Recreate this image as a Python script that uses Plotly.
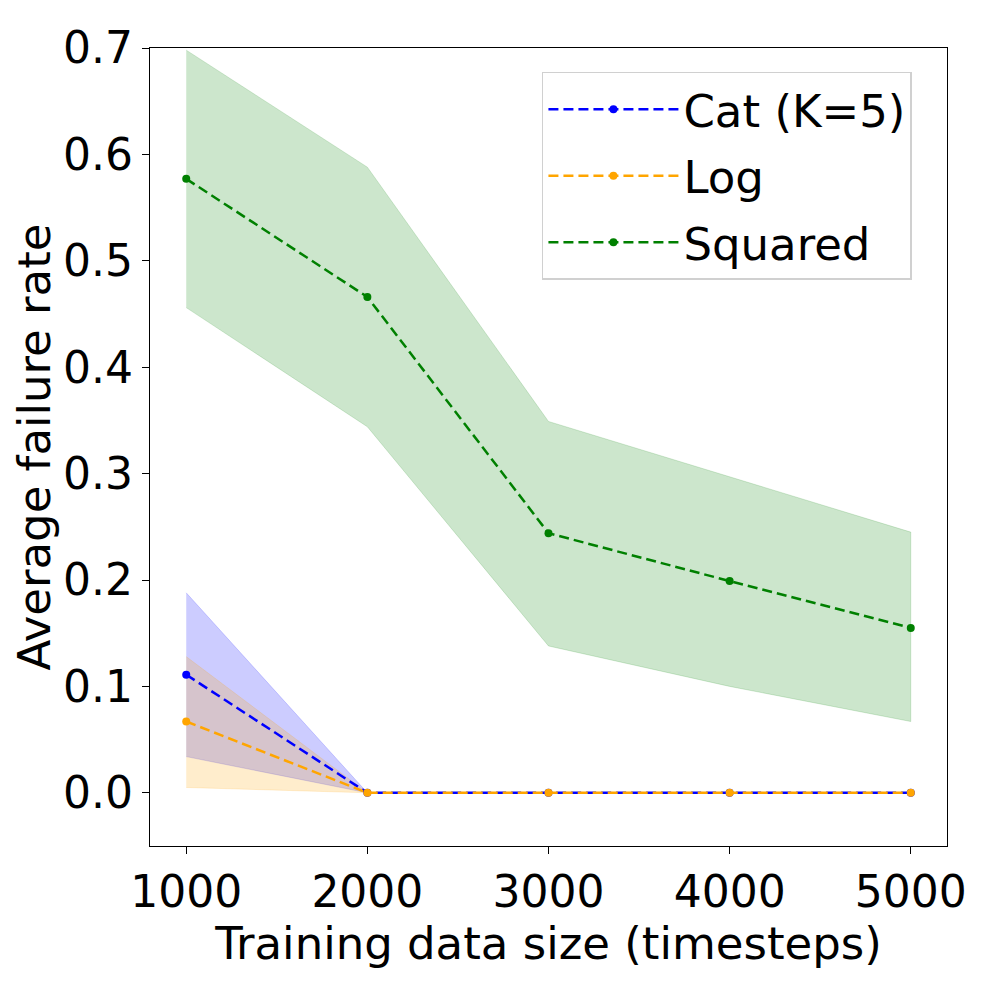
import plotly.graph_objects as go

# Training data sizes (timesteps)
sizes = [1000, 2000, 3000, 4000, 5000]

# Mean failure rates and band limits
cat_mean = [0.111, 0.0, 0.0, 0.0, 0.0]
cat_low = [0.034, 0.0, 0.0, 0.0, 0.0]
cat_high = [0.188, 0.0, 0.0, 0.0, 0.0]

log_mean = [0.067, 0.0, 0.0, 0.0, 0.0]
log_low = [0.005, 0.0, 0.0, 0.0, 0.0]
log_high = [0.128, 0.0, 0.0, 0.0, 0.0]

sq_mean = [0.577, 0.466, 0.244, 0.199, 0.155]
sq_low = [0.456, 0.344, 0.138, 0.100, 0.067]
sq_high = [0.698, 0.588, 0.349, 0.297, 0.245]

series = [
    ("Cat (K=5)", cat_mean, cat_low, cat_high, "blue", "rgba(0,0,255,0.2)"),
    ("Log", log_mean, log_low, log_high, "orange", "rgba(255,165,0,0.2)"),
    ("Squared", sq_mean, sq_low, sq_high, "green", "rgba(0,128,0,0.2)"),
]

font = "DejaVu Sans, sans-serif"
fig = go.Figure()

# Shaded bands first, then dashed lines on top
for name, mean, low, high, color, fill in series:
    fig.add_scatter(
        x=sizes + sizes[::-1],
        y=high + low[::-1],
        fill="toself",
        fillcolor=fill,
        line=dict(width=0.8, color=fill),
        mode="lines",
        showlegend=False,
        hoverinfo="skip",
    )

for name, mean, low, high, color, fill in series:
    fig.add_scatter(
        x=sizes,
        y=mean,
        mode="lines+markers",
        name=name,
        legendgroup=name,
        line=dict(color=color, width=2.5, dash="10px,5px"),
        marker=dict(color=color, size=8),
    )

axis_common = dict(
    showline=True,
    linecolor="black",
    linewidth=1.2,
    mirror=True,
    ticks="outside",
    ticklen=7,
    tickwidth=1.2,
    tickcolor="black",
    showgrid=False,
    zeroline=False,
    tickfont=dict(family=font, size=44, color="black"),
)

fig.update_layout(
    width=997,
    height=997,
    paper_bgcolor="white",
    plot_bgcolor="white",
    margin=dict(l=142, r=58, t=40, b=159),
    font=dict(family=font, color="black"),
    xaxis=dict(
        axis_common,
        range=[800, 5200],
        tickvals=sizes,
        title=dict(text="Training data size (timesteps)", font=dict(family=font, size=45), standoff=4),
    ),
    yaxis=dict(
        axis_common,
        range=[-0.05, 0.7],
        tickvals=[0.0, 0.1, 0.2, 0.3, 0.4, 0.5, 0.6, 0.7],
        tickformat=".1f",
        title=dict(text="Average failure rate", font=dict(family=font, size=45), standoff=12),
    ),
    legend=dict(
        x=0.956,
        y=0.97,
        xanchor="right",
        yanchor="top",
        bgcolor="rgba(255,255,255,0.8)",
        bordercolor="#d0d0d0",
        borderwidth=1.5,
        font=dict(family=font, size=45, color="black"),
        itemwidth=130,
        tracegroupgap=5,
    ),
)

fig.write_html("out.html")
